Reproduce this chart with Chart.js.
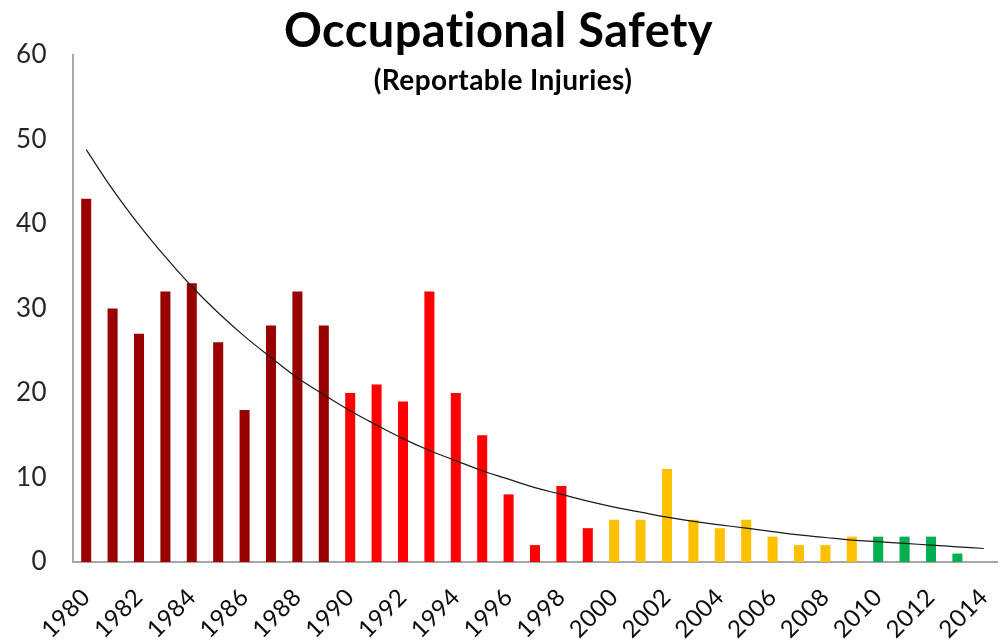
<!DOCTYPE html>
<html>
<head>
<meta charset="utf-8">
<script src="https://cdn.jsdelivr.net/npm/chart.js@4/dist/chart.umd.min.js"></script>
<style>
  html, body { margin: 0; padding: 0; background: #ffffff; }
  #wrap { width: 1002px; height: 642px; position: relative; }
</style>
</head>
<body>
<div id="wrap"><canvas id="c" width="1002" height="642"></canvas></div>
<script>
// ---- data ----
const years = ["1980","1981","1982","1983","1984","1985","1986","1987","1988","1989",
               "1990","1991","1992","1993","1994","1995","1996","1997","1998","1999",
               "2000","2001","2002","2003","2004","2005","2006","2007","2008","2009",
               "2010","2011","2012","2013","2014"];
const injuries = [43,30,27,32,33,26,18,28,32,28,
                  20,21,19,32,20,15,8,2,9,4,
                  5,5,11,5,4,5,3,2,2,3,
                  3,3,3,1,null];
// exponential trendline, values
const trend = [48.8,44.1,39.9,36.1,32.6,29.5,26.7,24.2,21.8,19.8,
               17.9,16.2,14.6,13.2,12.0,10.8,9.8,8.8,8.0,7.2,
               6.5,5.9,5.3,4.8,4.4,4.0,3.6,3.2,2.9,2.6,
               2.4,2.2,2.0,1.8,1.6];
const titleText = "Occupational Safety";
const subtitleText = "(Reportable Injuries)";

// ---- styles ----
function decadeColor(y) {
  const n = parseInt(y, 10);
  if (n < 1990) return "#990000";
  if (n < 2000) return "#ff0000";
  if (n < 2010) return "#ffc000";
  return "#00b050";
}
const barColors = years.map(decadeColor);
const FONT = "Lato, 'Open Sans', sans-serif";

const noLigatures = {
  id: "noLigatures",
  beforeDraw(chart) {
    if ("letterSpacing" in chart.ctx) chart.ctx.letterSpacing = "0.4px";
  }
};

const subtitlePlugin = {
  id: "subtitleOverlay",
  afterDraw(chart) {
    const ctx = chart.ctx;
    ctx.save();
    ctx.font = "bold 28px " + FONT;
    ctx.fillStyle = "#000000";
    ctx.textAlign = "center";
    ctx.textBaseline = "middle";
    ctx.fillText(subtitleText, 503, 81);
    ctx.restore();
  }
};

new Chart(document.getElementById("c"), {
  data: {
    labels: years,
    datasets: [
      {
        type: "line",
        data: trend,
        borderColor: "#1a1a1a",
        borderWidth: 1.2,
        pointRadius: 0,
        tension: 0.4,
        fill: false,
        order: 0
      },
      {
        type: "bar",
        data: injuries,
        backgroundColor: barColors,
        borderWidth: 0,
        barPercentage: 0.38,
        categoryPercentage: 1.0,
        order: 1
      }
    ]
  },
  options: {
    responsive: false,
    animation: false,
    layout: { padding: { left: 0, right: 5, top: 0, bottom: 0 } },
    plugins: {
      legend: { display: false },
      tooltip: { enabled: false },
      title: {
        display: true,
        text: titleText,
        color: "#000000",
        font: { family: FONT, size: 47, weight: "bold", lineHeight: 1.0 },
        padding: { top: 8, bottom: 0 }
      }
    },
    scales: {
      x: {
        offset: true,
        grid: { display: false, drawTicks: false },
        border: { display: true, color: "#a6a6a6", width: 2 },
        afterFit(scale) { scale.height = 80; scale.paddingLeft = 0; scale.paddingRight = 0; },
        ticks: {
          autoSkip: false,
          maxRotation: 45,
          minRotation: 45,
          padding: 21,
          color: "#0d0d0d",
          font: { family: FONT, size: 24 },
          callback: function (v, i) { return i % 2 === 0 ? this.getLabelForValue(v) : ""; }
        }
      },
      y: {
        min: 0,
        max: 60,
        grid: { display: false, drawTicks: false },
        border: { display: true, color: "#a6a6a6", width: 2 },
        afterFit(scale) { scale.width = 73; },
        ticks: {
          stepSize: 10,
          padding: 26,
          color: "#262626",
          font: { family: FONT, size: 26 }
        }
      }
    }
  },
  plugins: [noLigatures, subtitlePlugin]
});
</script>
</body>
</html>
